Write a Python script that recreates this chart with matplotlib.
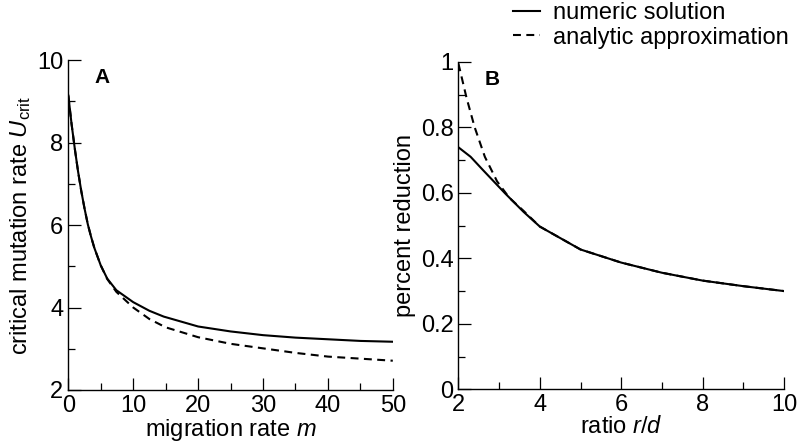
import matplotlib.pyplot as plt
from matplotlib.ticker import MultipleLocator

plt.rcParams['font.family'] = ['Liberation Sans', 'DejaVu Sans']
plt.rcParams['mathtext.fontset'] = 'custom'
plt.rcParams['mathtext.it'] = 'Liberation Sans:italic'
plt.rcParams['mathtext.rm'] = 'Liberation Sans'

# panel A: critical mutation rate vs migration rate
m_num = [0, 0.5, 1, 1.5, 2, 2.5, 3, 3.5, 4, 5, 6, 7.4, 10, 12.5, 14.7, 20, 25, 30, 35, 40, 45, 50]
u_num = [9.14, 8.45, 7.85, 7.3, 6.82, 6.4, 6.02, 5.72, 5.45, 5.02, 4.7, 4.42, 4.13, 3.92, 3.78, 3.54, 3.42, 3.33, 3.27, 3.23, 3.19, 3.17]
m_ana = [0, 0.5, 1, 1.5, 2, 2.5, 3, 3.5, 4, 5, 6, 7.4, 10, 12.5, 15, 20, 25, 30, 35, 40, 45, 50]
u_ana = [9.14, 8.45, 7.85, 7.3, 6.82, 6.4, 6.02, 5.72, 5.45, 5.02, 4.69, 4.38, 4.0, 3.72, 3.52, 3.28, 3.12, 3.01, 2.9, 2.81, 2.76, 2.71]

# panel B: percent reduction vs ratio r/d
r_num = [2, 2.3, 2.6, 3.15, 3.6, 4, 5, 6, 7, 8, 9, 10]
p_num = [0.739, 0.71, 0.67, 0.598, 0.542, 0.497, 0.427, 0.387, 0.356, 0.332, 0.315, 0.300]
r_ana = [2, 2.2, 2.4, 2.65, 2.95, 3.25, 3.6, 4, 5, 6, 7, 8, 9, 10]
p_ana = [0.995, 0.89, 0.80, 0.71, 0.635, 0.585, 0.545, 0.497, 0.427, 0.387, 0.356, 0.332, 0.315, 0.300]

fig = plt.figure(figsize=(8, 4.45), dpi=100)
axA = fig.add_axes([0.0854, 0.1236, 0.4056, 0.7414])
axB = fig.add_axes([0.573, 0.1251, 0.407, 0.7360])

lw = 1.5
dash = (0, (3.8, 2.6))
fs = 17

axA.plot(m_num, u_num, color='black', lw=lw, label='numeric solution')
axA.plot(m_ana, u_ana, color='black', lw=lw, linestyle=dash, label='analytic approximation')
axB.plot(r_num, p_num, color='black', lw=lw)
axB.plot(r_ana, p_ana, color='black', lw=lw, linestyle=dash)

axA.set_xlim(0, 50)
axA.set_ylim(2, 10)
axA.xaxis.set_major_locator(MultipleLocator(10))
axA.xaxis.set_minor_locator(MultipleLocator(5))
axA.yaxis.set_major_locator(MultipleLocator(2))
axA.yaxis.set_minor_locator(MultipleLocator(1))

axB.set_xlim(2, 10)
axB.set_ylim(0, 1)
axB.xaxis.set_major_locator(MultipleLocator(2))
axB.xaxis.set_minor_locator(MultipleLocator(1))
axB.yaxis.set_minor_locator(MultipleLocator(0.1))
axB.set_yticks([0, 0.2, 0.4, 0.6, 0.8, 1])
axB.set_yticklabels(['0', '0.2', '0.4', '0.6', '0.8', '1'])

for ax in (axA, axB):
    ax.spines['top'].set_visible(False)
    ax.spines['right'].set_visible(False)
    for s in ('left', 'bottom'):
        ax.spines[s].set_linewidth(1.0)
    ax.tick_params(which='major', direction='in', length=9, width=0.9, labelsize=fs, pad=3.5)
    ax.tick_params(which='minor', direction='in', length=4.8, width=0.9)

axA.set_xlabel('migration rate $m$', fontsize=fs, labelpad=0)
axA.set_ylabel('critical mutation rate $U_{\\rm crit}$', fontsize=fs, labelpad=3)
axB.set_xlabel('ratio $r/d$', fontsize=fs, labelpad=0)
axB.set_ylabel('percent reduction', fontsize=fs, labelpad=3)

axA.text(0.08, 0.975, 'A', transform=axA.transAxes, fontsize=15, fontweight='bold', va='top', ha='left')
axB.text(0.08, 0.975, 'B', transform=axB.transAxes, fontsize=15, fontweight='bold', va='top', ha='left')

handles, labels = axA.get_legend_handles_labels()
fig.legend(handles, labels, loc='upper left', bbox_to_anchor=(0.641, 0.995), frameon=False,
           fontsize=fs, handlelength=1.15, handletextpad=0.55, labelspacing=0.1,
           borderpad=0, borderaxespad=0)

fig.savefig('out.png', dpi=100)
